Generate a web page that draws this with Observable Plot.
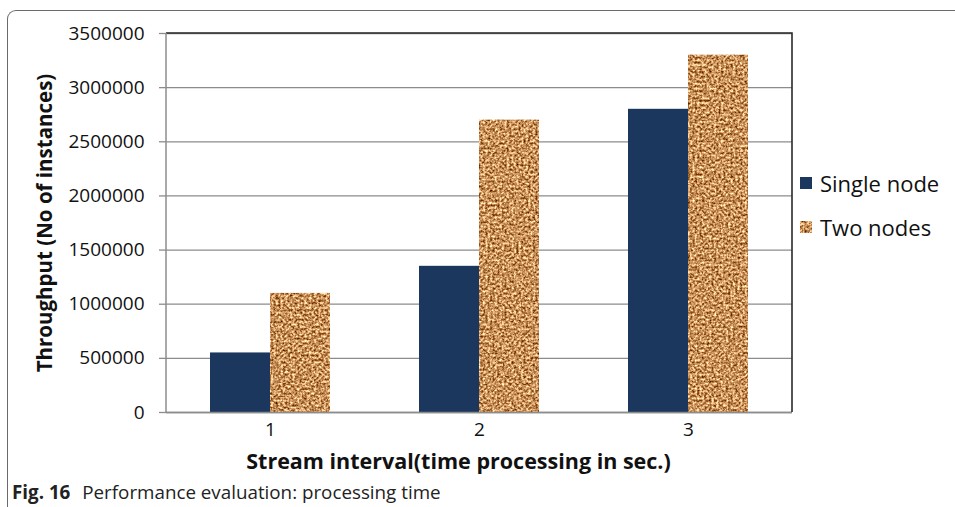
<!DOCTYPE html>
<html>
<head>
<meta charset="utf-8">
<script src="https://cdn.jsdelivr.net/npm/d3@7"></script>
<script src="https://cdn.jsdelivr.net/npm/@observablehq/plot@0.6"></script>
<style>
  html, body { margin: 0; padding: 0; background: #fff; }
  #wrap { position: relative; width: 955px; height: 507px; overflow: hidden; font-family: "Open Sans", sans-serif; }
  #frame { position: absolute; left: 7px; top: 10px; width: 1000px; height: 600px;
           border-left: 1.5px solid #6a6a6a; border-top: 1.5px solid #6a6a6a; border-top-left-radius: 9px; }
  #chart { position: absolute; left: 0; top: 0; }
  #legend { position: absolute; left: 800px; top: 167px; font-size: 22px; color: #111; }
  .item { display: flex; align-items: center; height: 32px; margin-bottom: 12px; }
  .sw { width: 12px; height: 12px; margin-right: 8px; display: block; }
  #caption { position: absolute; left: 12px; top: 479px; font-size: 18.8px; color: #222; white-space: nowrap; }
  #caption b { font-weight: 700; margin-right: 7px; }
</style>
</head>
<body>
<div id="wrap">
  <div id="frame"></div>
  <div id="chart"></div>
  <div id="legend"></div>
  <div id="caption"><b>Fig. 16</b> Performance evaluation: processing time</div>
</div>
<script>
// ---- data ----
const intervals = ["1", "2", "3"];
const seriesNames = ["Single node", "Two nodes"];
const singleNode = [550000, 1350000, 2800000];
const twoNodes = [1100000, 2700000, 3300000];
const yTicks = [0, 500000, 1000000, 1500000, 2000000, 2500000, 3000000, 3500000];

const navy = "#1b375d";
const corkBase = "#c8915c";

const data = [];
intervals.forEach((iv, i) => {
  data.push({interval: iv, series: seriesNames[0], value: singleNode[i]});
  data.push({interval: iv, series: seriesNames[1], value: twoNodes[i]});
});

const W = 955, H = 478;
const mL = 166, mR = 955 - 792, mT = 33, mB = H - 412;
const padIn = 0.426, padOut = 0.21;
const bw = d3.scaleBand().domain(intervals).range([mL, W - mR]).paddingInner(padIn).paddingOuter(padOut).bandwidth();

const plot = Plot.plot({
  width: W, height: H,
  marginLeft: mL, marginRight: mR, marginTop: mT, marginBottom: mB,
  style: {fontFamily: "Open Sans, sans-serif", color: "#111", background: "transparent"},
  x: {type: "band", domain: intervals, paddingInner: padIn, paddingOuter: padOut, label: null},
  y: {domain: [0, 3500000], label: null},
  marks: [
    Plot.gridY(yTicks, {stroke: "#8c8c8c", strokeOpacity: 1, strokeWidth: 1.3}),
    Plot.barY(data.filter(d => d.series === seriesNames[0]), {x: "interval", y: "value", fill: navy, insetRight: bw / 2}),
    Plot.barY(data.filter(d => d.series === seriesNames[1]), {x: "interval", y: "value", fill: corkBase, insetLeft: bw / 2, className: "cork"}),
    Plot.ruleY([0], {stroke: "#8c8c8c", strokeWidth: 1.5}),
    Plot.axisY({ticks: yTicks, tickFormat: d3.format("d"), tickSize: 7, tickPadding: 15, fontSize: 19, stroke: "#8c8c8c", strokeWidth: 1.3, label: null}),
    Plot.axisX({tickSize: 0, tickPadding: 10, fontSize: 19, label: null}),
    Plot.text(["Stream interval(time processing in sec.)"], {frameAnchor: "bottom", dy: 56, dx: -21, fontSize: 21.5, fontWeight: "bold", fill: "#111"}),
    Plot.text(["Throughput (No of instances)"], {frameAnchor: "left", dx: -121, rotate: -90, textAnchor: "middle", fontSize: 20.5, fontWeight: "bold", fill: "#111"})
  ]
});

// texture filter for the cork-like fill
const svg = d3.select(plot);
const defs = svg.insert("defs", ":first-child");
const f = defs.append("filter").attr("id", "cork").attr("x", 0).attr("y", 0).attr("width", 1).attr("height", 1)
  .attr("filterUnits", "objectBoundingBox").attr("primitiveUnits", "userSpaceOnUse")
  .attr("color-interpolation-filters", "sRGB");
f.append("feTurbulence").attr("type", "fractalNoise").attr("baseFrequency", 0.42).attr("numOctaves", 2).attr("seed", 11).attr("result", "n");
f.append("feColorMatrix").attr("in", "n").attr("type", "matrix")
  .attr("values", "1.25 0 0 0 0.16  1.4 0 0 0 -0.13  1.3 0 0 0 -0.29  0 0 0 0 1").attr("result", "c");
f.append("feComposite").attr("in", "c").attr("in2", "SourceGraphic").attr("operator", "in");
svg.selectAll(".cork rect").attr("filter", "url(#cork)");

// plot-area border (top and right dark, left axis grey)
const ys = plot.scale("y");
const x0 = mL, x1 = W - mR, y0 = ys.apply(0), yTop = ys.apply(3500000);
svg.append("path").attr("d", `M${x0},${yTop}H${x1}V${y0}`).attr("fill", "none").attr("stroke", "#2a2a2a").attr("stroke-width", 1.6);
svg.append("line").attr("x1", x0).attr("x2", x0).attr("y1", yTop).attr("y2", y0).attr("stroke", "#8c8c8c").attr("stroke-width", 1.5);

document.getElementById("chart").appendChild(plot);

// legend
const legend = document.getElementById("legend");
const items = [
  {name: seriesNames[0], fill: navy, tex: false},
  {name: seriesNames[1], fill: corkBase, tex: true}
];
items.forEach(it => {
  const div = document.createElement("div");
  div.className = "item";
  div.innerHTML = `<svg class="sw" width="12" height="12"><rect width="12" height="12" fill="${it.fill}" ${it.tex ? 'filter="url(#cork)"' : ''}/></svg><span>${it.name}</span>`;
  legend.appendChild(div);
});
</script>
</body>
</html>
